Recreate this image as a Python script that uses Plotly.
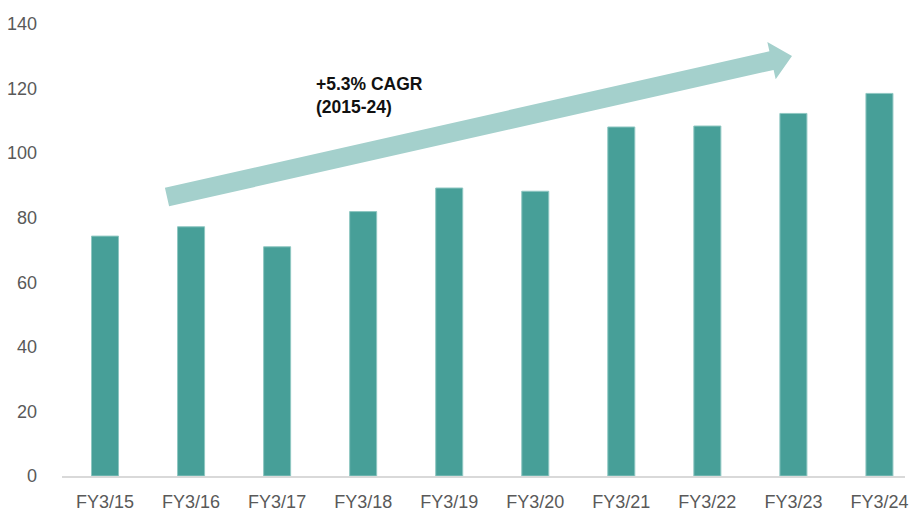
import plotly.graph_objects as go
import math

categories = ["FY3/15", "FY3/16", "FY3/17", "FY3/18", "FY3/19",
              "FY3/20", "FY3/21", "FY3/22", "FY3/23", "FY3/24"]
values = [74.3, 77.2, 71.0, 81.9, 89.2, 88.2, 108.1, 108.4, 112.3, 118.5]
y_ticks = [0, 20, 40, 60, 80, 100, 120, 140]
cagr_text = "+5.3% CAGR<br>(2015-24)"

W, H = 910, 512
ML, MR, MT, MB = 62, 5, 24, 36
FONT = "Liberation Sans, Arial, sans-serif"

fig = go.Figure(go.Bar(
    x=list(range(len(categories))), y=values,
    width=0.314,
    marker=dict(color="#479f98", line=dict(color="#8fc7c2", width=1)),
))

# arrow polygon in pixel space -> paper coords
def px2paper(px, py):
    return ((px - ML) / (W - ML - MR), 1 - (py - MT) / (H - MT - MB))

sx, sy = 167, 197
tx, ty = 792, 56
L = math.hypot(tx - sx, ty - sy)
ux, uy = (tx - sx) / L, (ty - sy) / L
nx, ny = -uy, ux
hw, hh, hl = 9.5, 19, 21
bx, by = tx - hl * ux, ty - hl * uy
pts = [
    (sx - hw * nx, sy - hw * ny),
    (bx - hw * nx, by - hw * ny),
    (bx - hh * nx, by - hh * ny),
    (tx, ty),
    (bx + hh * nx, by + hh * ny),
    (bx + hw * nx, by + hw * ny),
    (sx + hw * nx, sy + hw * ny),
]
path = "M " + " L ".join("%.5f,%.5f" % px2paper(*p) for p in pts) + " Z"
fig.add_shape(type="path", path=path, xref="paper", yref="paper",
              fillcolor="#a4d0cc", line=dict(width=0), layer="above")

ax, ay = px2paper(314, 72)
fig.add_annotation(text="<b>" + cagr_text + "</b>", xref="paper", yref="paper",
                   x=ax, y=ay, xanchor="left", yanchor="top", align="left",
                   showarrow=False,
                   font=dict(family=FONT, size=17.5, color="#111111"))

fig.update_layout(
    width=W, height=H,
    margin=dict(l=ML, r=MR, t=MT, b=MB, autoexpand=False),
    paper_bgcolor="white", plot_bgcolor="white",
    showlegend=False,
    font=dict(family=FONT, size=18, color="#595959"),
    xaxis=dict(
        tickmode="array", tickvals=list(range(len(categories))), ticktext=categories,
        range=[-0.5, 9.297], showgrid=False, zeroline=False,
        showline=True, linecolor="#d9d9d9", linewidth=2,
        ticks="", ticklabelstandoff=8, automargin=False,
        ticklabeloverflow="allow",
    ),
    yaxis=dict(
        range=[0, 140], tickvals=y_ticks, showgrid=False, zeroline=False,
        showline=False, ticks="", ticklabelstandoff=24, automargin=False,
    ),
)

fig.write_html("out.html")
